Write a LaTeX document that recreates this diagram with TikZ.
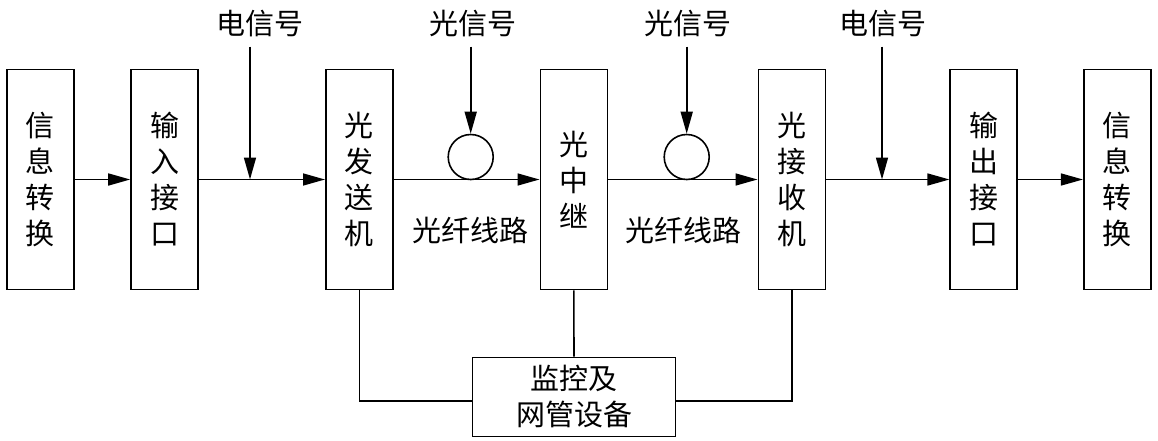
\documentclass[tikz,border=0pt]{standalone}
\usepackage{fontspec}
\setmainfont{Noto Sans CJK SC}
\usetikzlibrary{arrows.meta}
\begin{document}
\begin{tikzpicture}[x=1pt,y=-1pt,
  every node/.style={font=\fontsize{29}{36}\selectfont},
  blk/.style={draw,line width=1.6pt,minimum width=67pt,minimum height=220pt,inner sep=0pt,align=center},
  bigblk/.style={draw,line width=1.6pt,minimum width=203pt,minimum height=79pt,inner sep=0pt,align=center},
  lab/.style={inner sep=0pt},
  wire/.style={line width=1.6pt},
  arr/.style={wire,-{Triangle[length=22pt,width=12pt]}},
  fiber/.style={draw,circle,line width=1.6pt,minimum size=45pt,inner sep=0pt}
]
\useasboundingbox (0,0) rectangle (1158,441);
% blocks
\node[blk] (b1) at (40.2,179.5) {信\\息\\转\\换};
\node[blk] (b2) at (164.5,179.5) {输\\入\\接\\口};
\node[blk] (b3) at (359.3,179.5) {光\\发\\送\\机};
\node[blk] (b4) at (573.8,179.5) {光\\中\\继};
\node[blk] (b5) at (791.8,179.5) {光\\接\\收\\机};
\node[blk] (b6) at (983.7,179.5) {输\\出\\接\\口};
\node[blk] (b7) at (1117.2,179.5) {信\\息\\转\\换};
\node[bigblk] (nm) at (574,397) {监控及\\网管设备};
% labels
\node[lab] (l1) at (260,24) {电信号};
\node[lab] (l2) at (473,24) {光信号};
\node[lab] (l3) at (688,24) {光信号};
\node[lab] (l4) at (883,24) {电信号};
\node[lab] (f1) at (470,230) {光纤线路};
\node[lab] (f2) at (683,230) {光纤线路};
% fibre coils
\node[fiber] (c1) at (470.7,157) {};
\node[fiber] (c2) at (686.7,157) {};
% junctions
\coordinate (j1) at (250,179.5);
\coordinate (j4) at (882,179.5);
\coordinate (t1) at (250,46.7);
\coordinate (t2) at (470.7,46.7);
\coordinate (t3) at (686.7,46.7);
\coordinate (t4) at (882,46.7);
% main signal path
\draw[arr] (b1) -- (b2);
\draw[arr] (b2) -- (b3);
\draw[arr] (b3) -- (b4);
\draw[arr] (b4) -- (b5);
\draw[arr] (b5) -- (b6);
\draw[arr] (b6) -- (b7);
% injection arrows
\draw[arr] (t1) -- (j1);
\draw[arr] (t2) -- (c1.north);
\draw[arr] (t3) -- (c2.north);
\draw[arr] (t4) -- (j4);
% supervision links
\draw[wire] (b3.south) |- ([yshift=-3.7pt]nm.west);
\draw[wire] (b5.south) |- ([yshift=-3.7pt]nm.east);
\draw[wire] (b4.south) -- (nm.north);
\end{tikzpicture}
\end{document}
